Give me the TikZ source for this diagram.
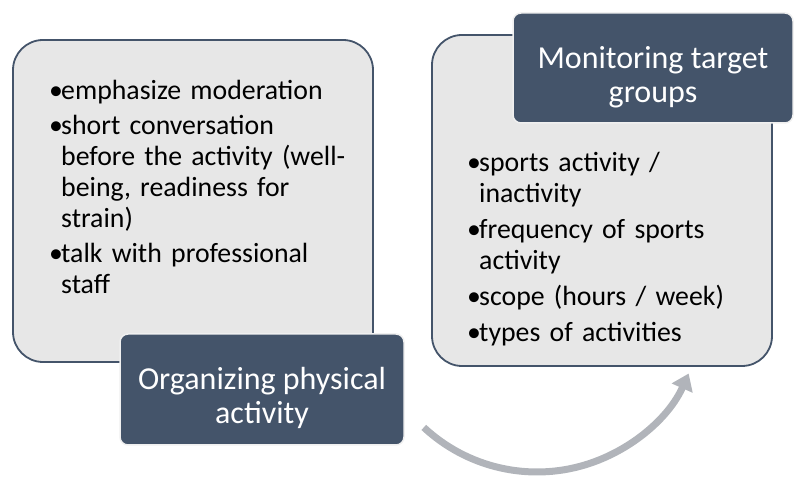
\documentclass[tikz,border=0pt]{standalone}
\usepackage{fontspec}
\setmainfont{Carlito}
\usetikzlibrary{arrows.meta,calc}
\definecolor{boxfill}{HTML}{E7E7E7}
\definecolor{boxline}{HTML}{44546A}
\definecolor{darkfill}{HTML}{44546A}
\definecolor{arrowgray}{HTML}{B1B4BA}
\tikzset{
  lightbox/.style={draw=boxline,fill=boxfill,line width=1.8pt,rounded corners=30pt},
  darkbox/.style={draw=white!94!black,fill=darkfill,line width=1.5pt,rounded corners=8pt},
  titletext/.style={text=white,align=center,font=\fontsize{32}{34}\selectfont},
  listtext/.style={anchor=north west,inner sep=0pt,font=\fontsize{27.8}{31}\selectfont},
  cyclearrow/.style={draw=arrowgray,line width=7pt,-{Triangle[length=16pt,width=22pt]}}
}
\newcommand{\bitem}[1]{\par\hangindent=12pt\hangafter=1\noindent\makebox[12pt][l]{•}#1}
\begin{document}
\begin{tikzpicture}[x=1pt,y=1pt]
\useasboundingbox (0,0) rectangle (795,478);
% left group
\path[lightbox] (13,116) rectangle (373,438);
\node[listtext,text width=297pt] (ltext) at (49,414) {\raggedright\hyphenpenalty=10000\exhyphenpenalty=0\setlength{\parskip}{4pt}%
\bitem{emphasize moderation}
\bitem{short conversation before the activity (well-being, readiness for strain)}
\bitem{talk with professional staff}\par};
\path[darkbox] (120,33) rectangle (404,144);
\node[titletext] (ltitle) at (262,80) {Organizing physical\\activity};
% right group
\path[lightbox] (432,112) rectangle (772,443);
\path[darkbox] (513,355) rectangle (793,465);
\node[titletext] (rtitle) at (653,401) {Monitoring target\\groups};
\node[listtext,text width=258pt] (rtext) at (467,343) {\raggedright\hyphenpenalty=10000\setlength{\parskip}{5pt}%
\bitem{sports activity / inactivity}
\bitem{frequency of sports activity}
\bitem{scope (hours / week)}
\bitem{types of activities}\par};
% arrow
\coordinate (arcc) at (537,172);
\draw[cyclearrow] ($(arcc)+(-133:166)$) arc[start angle=-133,end angle=-24,radius=166];
\end{tikzpicture}
\end{document}
